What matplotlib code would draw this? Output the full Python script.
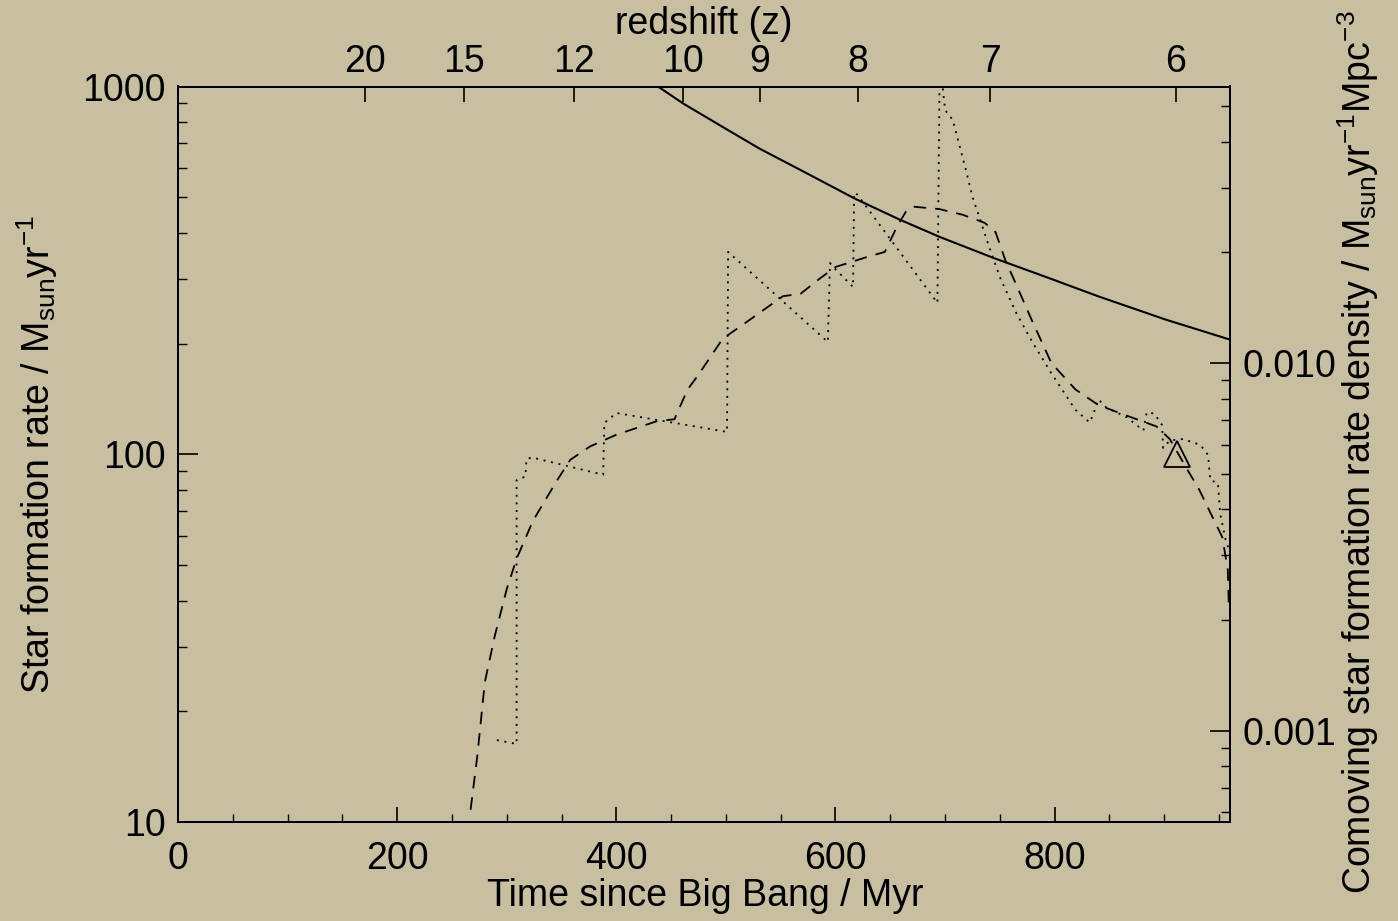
import matplotlib
matplotlib.use('Agg')
import matplotlib.pyplot as plt
from matplotlib.ticker import FixedLocator, NullFormatter, NullLocator

plt.rcParams['font.family'] = ['Liberation Sans', 'DejaVu Sans']
plt.rcParams['mathtext.fontset'] = 'custom'
plt.rcParams['mathtext.rm'] = 'Liberation Sans'
plt.rcParams['mathtext.it'] = 'Liberation Sans:italic'
plt.rcParams['lines.scale_dashes'] = False

# --- simulated SFR (dotted, sawtooth) : time [Myr], SFR [Msun/yr]
t_sim = [291, 309, 309, 317, 318, 323, 388, 389, 400, 501, 502, 593, 595, 597,
         616, 617, 620, 693, 695, 697, 700, 707, 719, 725, 733, 738, 750, 765,
         780, 797, 819, 832, 835, 840, 847, 866, 881, 884, 891, 898, 899, 905,
         917, 933, 940, 942, 949, 951, 956, 959]
sfr_sim = [16.7, 16.3, 85, 87, 97, 98, 88, 121.6, 129.5, 115, 355, 202, 331, 325,
           285, 514, 508, 258, 1060, 1050, 863, 811, 593, 501, 426, 383, 303, 242,
           201, 166, 132, 122, 128, 141, 134, 126, 116, 130, 129, 120, 104, 109,
           110, 106, 99.5, 85, 83.5, 69, 58.5, 55]

# --- smoothed SFR (dashed)
t_smooth = [267, 273, 280, 289, 300, 309, 324, 346, 358, 376, 400, 437, 453, 465,
            474, 497, 519, 552, 568, 586, 600, 629, 645, 656, 665, 672, 695, 716,
            736, 746, 755, 767, 779, 797, 819, 840, 870, 893, 905, 920, 932, 944,
            953, 958, 959]
sfr_smooth = [10.8, 15, 24, 32, 43, 52, 66, 85, 96.6, 105, 113, 123, 124.5, 150,
              163, 206, 229, 269, 273, 301, 323, 344, 355, 415, 461, 471, 464, 448,
              426, 402, 337, 280, 232, 177, 150, 136, 126, 119, 110, 92, 80, 67.5,
              59.5, 48.5, 38]

# --- required SFR (solid)
t_req = [430, 438, 461, 500, 531, 568, 618, 659, 695, 744, 790, 841, 902, 960]
sfr_req = [1038, 1000, 899, 767, 677, 593, 495, 434, 390, 342, 305, 268, 232, 205]

# --- observed point (triangle)
t_obs = [912]
sfr_obs = [100]

# top axis: redshift ticks placed at their cosmic time
z_labels = ['20', '15', '12', '10', '9', '8', '7', '6']
z_times = [170.6, 260.6, 361.0, 460.4, 531.0, 620.6, 741.0, 910.3]

# SFR -> comoving SFR density conversion factor
dens_factor = 5.65e-5

x_min, x_max = 0, 960
y_min, y_max = 10, 1000

bg = '#c8bea0'
fs = 27

fig = plt.figure(figsize=(13.98, 9.21), dpi=100, facecolor=bg)
ax = fig.add_axes([178 / 1398, 1 - 822 / 921, 1052 / 1398, 735.5 / 921])
ax.set_facecolor('none')

ax.plot(t_sim, sfr_sim, color='black', lw=1.3, dashes=[1.4, 4.1],
        dash_capstyle='butt')
ax.plot(t_smooth, sfr_smooth, color='black', lw=1.3, dashes=[9, 6.5],
        dash_capstyle='butt')
ax.plot(t_req, sfr_req, color='black', lw=1.5)
ax.plot(t_obs, sfr_obs, linestyle='none', marker='^', markersize=19,
        markerfacecolor='none', markeredgecolor='black', markeredgewidth=1.3)

ax.set_xlim(x_min, x_max)
ax.set_yscale('log')
ax.set_ylim(y_min, y_max)

ax.set_xticks([0, 200, 400, 600, 800])
ax.xaxis.set_minor_locator(FixedLocator([v for v in range(50, 960, 50) if v % 200]))
ax.set_yticks([10, 100, 1000])
ax.set_yticklabels(['10', '100', '1000'])
ax.yaxis.set_minor_locator(FixedLocator([m * 10 ** e for e in (1, 2) for m in range(2, 10)]))
ax.yaxis.set_minor_formatter(NullFormatter())

ax.tick_params(axis='x', which='major', direction='in', length=11, width=1.2,
               labelsize=fs, pad=14, top=False)
ax.tick_params(axis='x', which='minor', direction='in', length=6, width=1.0, top=False)
ax.tick_params(axis='y', which='major', direction='in', length=14.5, width=1.2,
               labelsize=fs, pad=9, right=False)
ax.tick_params(axis='y', which='minor', direction='in', length=6.5, width=1.0, right=False)

for sp in ax.spines.values():
    sp.set_linewidth(1.4)
    sp.set_color('black')

ax.set_xlabel('Time since Big Bang / Myr', fontsize=fs)
ax.xaxis.set_label_coords(0.501, -0.076)
ax.set_ylabel(r'Star formation rate / M$_{\mathrm{sun}}$yr$^{-1}$', fontsize=fs)
ax.yaxis.set_label_coords(-0.112, 0.5)

# right axis: comoving SFR density
ax_r = ax.twinx()
ax_r.set_yscale('log')
ax_r.set_ylim(y_min * dens_factor, y_max * dens_factor)
ax_r.yaxis.set_major_locator(FixedLocator([0.001, 0.01]))
ax_r.set_yticklabels(['0.001', '0.010'])
ax_r.yaxis.set_minor_locator(FixedLocator(
    [m * 10.0 ** e for e in (-4, -3, -2) for m in range(2, 10)
     if y_min * dens_factor < m * 10.0 ** e < y_max * dens_factor]))
ax_r.yaxis.set_minor_formatter(NullFormatter())
ax_r.tick_params(axis='y', which='major', direction='in', length=14.5, width=1.2,
                 labelsize=fs, pad=9)
ax_r.tick_params(axis='y', which='minor', direction='in', length=6.5, width=1.0)
ax_r.set_ylabel(r'Comoving star formation rate density / M$_{\mathrm{sun}}$yr$^{-1}$Mpc$^{-3}$',
                fontsize=fs)
ax_r.yaxis.set_label_coords(1.1, 0.503)
for sp in ax_r.spines.values():
    sp.set_linewidth(1.4)

# top axis: redshift
ax_t = ax.twiny()
ax_t.set_xlim(x_min, x_max)
ax_t.set_xticks(z_times)
ax_t.set_xticklabels(z_labels)
ax_t.xaxis.set_minor_locator(NullLocator())
ax_t.tick_params(axis='x', direction='in', length=11, width=1.2, labelsize=fs, pad=5)
ax_t.set_xlabel('redshift (z)', fontsize=fs)
ax_t.xaxis.set_label_coords(0.5, 1.071)
for sp in ax_t.spines.values():
    sp.set_linewidth(1.4)

fig.savefig('out.png', dpi=100, facecolor=bg)
